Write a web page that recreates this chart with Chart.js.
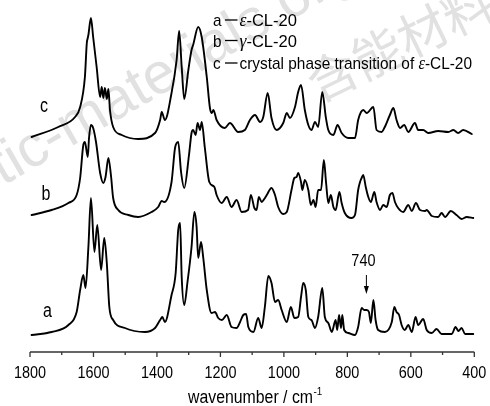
<!DOCTYPE html>
<html>
<head>
<meta charset="utf-8">
<script src="https://cdn.jsdelivr.net/npm/chart.js@4.4.0/dist/chart.umd.min.js"></script>
<style>
  html, body { margin: 0; padding: 0; background: #fff; }
</style>
</head>
<body>
<canvas id="espectro" width="490" height="406"></canvas>
<script>
// ESPECTROS IR DO CL-20 (a, b, c empilhados)

// a - e-CL-20
var numOndaA = [1795, 1732, 1679, 1653, 1642, 1632, 1625, 1616, 1608, 1597, 1588, 1576, 1566, 1558, 1550,
  1538, 1501, 1438, 1406, 1390, 1383, 1375, 1354, 1341, 1333, 1327, 1322, 1314, 1303, 1296,
  1291, 1282, 1275, 1270, 1261, 1254, 1243, 1228, 1217, 1207, 1195, 1180, 1165, 1149, 1138,
  1128, 1119, 1112, 1096, 1081, 1070, 1060, 1049, 1039, 1028, 1018, 1007, 991, 978, 967,
  955, 946, 939, 931, 923, 913, 902, 892, 879, 871, 860, 849, 837, 832, 826,
  820, 816, 810, 797, 776, 766, 755, 747, 739, 732, 726, 718, 711, 703, 682,
  660, 652, 645, 637, 629, 619, 608, 597, 585, 577, 561, 550, 534, 519, 503,
  471, 459, 450, 440, 429, 403];
var intensA = [17, 20, 27, 40, 62, 77, 64, 105, 154, 100, 127, 82, 114, 89, 45,
  32, 24, 20, 24, 32, 35, 30, 57, 79, 122, 129, 75, 47, 72, 90,
  105, 140, 125, 94, 110, 94, 62, 39, 40, 34, 32, 37, 25, 24, 30,
  37, 38, 25, 20, 34, 24, 45, 76, 69, 50, 52, 42, 30, 45, 34,
  35, 55, 69, 62, 35, 32, 24, 35, 64, 35, 29, 20, 32, 22, 37,
  24, 37, 22, 19, 17, 25, 44, 42, 42, 40, 29, 52, 32, 22, 20,
  30, 45, 40, 37, 27, 22, 27, 20, 35, 27, 33, 22, 19, 23, 18,
  18, 25, 21, 24, 18, 18];

// b - g-CL-20
var numOndaB = [1795, 1732, 1679, 1653, 1642, 1632, 1627, 1618, 1614, 1608, 1601, 1592, 1579, 1569, 1562,
  1553, 1545, 1538, 1522, 1490, 1459, 1417, 1396, 1385, 1377, 1354, 1343, 1333, 1324, 1314,
  1299, 1291, 1286, 1278, 1272, 1264, 1259, 1249, 1235, 1219, 1212, 1196, 1180, 1165, 1149,
  1133, 1113, 1104, 1093, 1086, 1079, 1070, 1062, 1054, 1039, 1028, 1018, 1002, 991, 976,
  967, 960, 955, 946, 942, 934, 923, 915, 907, 900, 892, 883, 874, 867, 860,
  852, 844, 837, 825, 818, 808, 787, 776, 766, 760, 755, 750, 742, 734, 726,
  715, 708, 697, 687, 676, 666, 658, 650, 640, 624, 608, 597, 584, 571, 555,
  550, 534, 514, 503, 492, 474, 456, 440, 424, 403];
var intensB = [137, 142, 149, 157, 174, 207, 210, 195, 214, 227, 224, 210, 179, 169, 175,
  194, 177, 154, 142, 137, 135, 140, 145, 151, 150, 170, 204, 210, 180, 164,
  197, 219, 222, 217, 229, 222, 230, 204, 170, 165, 157, 149, 155, 145, 152,
  140, 142, 157, 144, 142, 155, 150, 153, 157, 164, 157, 145, 138, 140, 162,
  174, 175, 179, 170, 162, 172, 162, 147, 152, 145, 162, 162, 192, 169, 149,
  157, 145, 142, 160, 149, 139, 134, 137, 162, 170, 174, 177, 165, 155, 150,
  160, 150, 142, 147, 145, 157, 159, 150, 144, 140, 147, 141, 149, 142, 141,
  142, 136, 135, 139, 135, 141, 137, 133, 135, 134];

// c - transicao de fase do e-CL-20
var numOndaC = [1795, 1711, 1658, 1642, 1627, 1621, 1618, 1616, 1608, 1601, 1590, 1579, 1574, 1569, 1564,
  1558, 1553, 1548, 1538, 1511, 1459, 1406, 1390, 1385, 1375, 1354, 1338, 1330, 1322, 1314,
  1301, 1291, 1286, 1270, 1259, 1243, 1233, 1227, 1222, 1212, 1186, 1170, 1144, 1123, 1107,
  1091, 1075, 1065, 1051, 1039, 1023, 1002, 991, 981, 965, 955, 946, 934, 923, 913,
  902, 892, 879, 868, 860, 844, 831, 818, 797, 776, 766, 757, 750, 739, 718,
  708, 692, 682, 666, 655, 645, 634, 621, 608, 587, 577, 561, 545, 514, 482,
  466, 451, 435, 408];
var intensC = [215, 225, 235, 245, 275, 309, 314, 317, 334, 315, 285, 255, 265, 254, 264,
  253, 263, 242, 225, 217, 213, 219, 232, 240, 232, 259, 292, 321, 285, 253,
  282, 302, 307, 325, 315, 275, 244, 239, 242, 232, 224, 229, 220, 222, 232,
  237, 230, 235, 259, 234, 222, 229, 239, 234, 245, 260, 267, 242, 227, 222,
  230, 225, 260, 235, 222, 217, 227, 219, 214, 214, 232, 240, 242, 239, 245,
  222, 220, 225, 237, 244, 232, 224, 227, 220, 229, 222, 222, 219, 221, 220,
  222, 219, 222, 218];

// eixo x
var ticksPrincipais = [1800, 1600, 1400, 1200, 1000, 800, 600, 400];
var ticksMenores = [1700, 1500, 1300, 1100, 900, 700, 500];
var rotulosCurvas = ['a', 'b', 'c'];
var bandaMarcada = 740;

var FONTE = '"Liberation Sans", Arial, sans-serif';
var FONTE_GREGA = '"Liberation Serif", "DejaVu Serif", serif';

function montarPontos(x, y) {
  var pontos = [];
  for (var i = 0; i < x.length; i++) {
    pontos.push({ x: x[i], y: y[i] });
  }
  return pontos;
}

// escreve varios pedacos de texto em sequencia, comprimidos na horizontal
function escrever(ctx, partes, x, y, opc) {
  var total = 0;
  partes.forEach(function (p) {
    ctx.font = p.fonte;
    p.w = ctx.measureText(p.t).width;
    total += p.w;
  });
  var sx = opc.largura ? opc.largura / total : (opc.sx || 1);
  var x0 = opc.centro ? x - total * sx / 2 : x;
  ctx.save();
  ctx.translate(x0, y);
  ctx.scale(sx, 1);
  ctx.textBaseline = 'alphabetic';
  ctx.textAlign = 'left';
  var cx = 0;
  partes.forEach(function (p) {
    ctx.font = p.fonte;
    ctx.fillText(p.t, cx, 0);
    cx += p.w;
  });
  ctx.restore();
}

function marcaDagua(ctx) {
  ctx.save();
  ctx.fillStyle = '#e1e1e1';
  ctx.textBaseline = 'alphabetic';
  ctx.font = '58px ' + FONTE;
  ctx.translate(3, 186);
  ctx.rotate(-30 * Math.PI / 180);
  var antes = ctx.measureText('energe').width;
  ctx.fillText('energetic-materials.org.cn', -antes, 0);
  ctx.restore();

  ctx.save();
  ctx.fillStyle = '#e1e1e1';
  ctx.font = '50px "Noto Sans CJK SC"';
  ctx.textBaseline = 'middle';
  ctx.translate(310, 86);
  ctx.rotate(-26 * Math.PI / 180);
  ctx.fillText('含能材料', 0, 0);
  ctx.restore();
}

var pluginEixo = {
  id: 'eixoEspectro',
  beforeDatasetsDraw: function (chart) {
    marcaDagua(chart.ctx);
  },
  afterDraw: function (chart) {
    var ctx = chart.ctx;
    var escalaX = chart.scales.x;
    var base = chart.chartArea.bottom;

    ctx.save();
    ctx.fillStyle = '#000';

    // linha do eixo e marcacoes
    ctx.strokeStyle = '#333';
    ctx.lineWidth = 1.5;
    ctx.beginPath();
    ctx.moveTo(escalaX.getPixelForValue(1800), base);
    ctx.lineTo(escalaX.getPixelForValue(400), base);
    ctx.stroke();
    ctx.lineWidth = 1.3;
    ticksPrincipais.forEach(function (v) {
      var px = escalaX.getPixelForValue(v);
      ctx.beginPath();
      ctx.moveTo(px, base);
      ctx.lineTo(px, base + 5);
      ctx.stroke();
      escrever(ctx, [{ t: String(v), fonte: '16px ' + FONTE }], px, base + 26, { sx: 0.9, centro: true });
    });
    ticksMenores.forEach(function (v) {
      var px = escalaX.getPixelForValue(v);
      ctx.beginPath();
      ctx.moveTo(px, base);
      ctx.lineTo(px, base + 3);
      ctx.stroke();
    });

    // titulo do eixo
    escrever(ctx, [{ t: 'wavenumber / cm', fonte: '18px ' + FONTE }], 188, 403, { largura: 125 });
    escrever(ctx, [{ t: '-1', fonte: '11px ' + FONTE }], 313.5, 395, { sx: 0.9 });

    // letras das curvas
    escrever(ctx, [{ t: rotulosCurvas[0], fonte: '20px ' + FONTE }], 43, 316.5, { sx: 0.8 });
    escrever(ctx, [{ t: rotulosCurvas[1], fonte: '20px ' + FONTE }], 41.5, 200, { sx: 0.8 });
    escrever(ctx, [{ t: rotulosCurvas[2], fonte: '20px ' + FONTE }], 40, 111.5, { sx: 0.8 });

    // legenda
    var linhas = [
      { letra: 'a', y: 26, partes: [{ t: 'ε', fonte: 'italic 18px ' + FONTE_GREGA }, { t: '-CL-20', fonte: '17px ' + FONTE }], fim: 297 },
      { letra: 'b', y: 46.5, partes: [{ t: 'γ', fonte: 'italic 18px ' + FONTE_GREGA }, { t: '-CL-20', fonte: '17px ' + FONTE }], fim: 297 },
      { letra: 'c', y: 69, partes: [{ t: 'crystal phase transition of ', fonte: '17px ' + FONTE }, { t: 'ε', fonte: 'italic 18px ' + FONTE_GREGA }, { t: '-CL-20', fonte: '17px ' + FONTE }], fim: 472 }
    ];
    linhas.forEach(function (l) {
      escrever(ctx, [{ t: l.letra, fonte: '17px ' + FONTE }], 213, l.y, { sx: 0.9 });
      ctx.lineWidth = 1.3;
      ctx.strokeStyle = '#000';
      ctx.beginPath();
      ctx.moveTo(225, l.y - 6);
      ctx.lineTo(237.5, l.y - 6);
      ctx.stroke();
      escrever(ctx, l.partes, 239.5, l.y, { largura: l.fim - 239.5 });
    });

    // banda 740
    var xb = escalaX.getPixelForValue(bandaMarcada);
    escrever(ctx, [{ t: String(bandaMarcada), fonte: '17px ' + FONTE }], xb - 3, 266, { sx: 0.85, centro: true });
    ctx.strokeStyle = '#000';
    ctx.lineWidth = 1;
    ctx.beginPath();
    ctx.moveTo(xb, 275);
    ctx.lineTo(xb, 290);
    ctx.stroke();
    ctx.beginPath();
    ctx.moveTo(xb, 294);
    ctx.lineTo(xb - 2.5, 286);
    ctx.lineTo(xb + 2.5, 286);
    ctx.closePath();
    ctx.fill();

    ctx.restore();
  }
};

function criarSerie(x, y) {
  return {
    data: montarPontos(x, y),
    borderColor: '#000',
    borderWidth: 1.9,
    pointRadius: 0,
    fill: false,
    cubicInterpolationMode: 'monotone'
  };
}

var config = {
  type: 'line',
  data: {
    datasets: [
      criarSerie(numOndaA, intensA),
      criarSerie(numOndaB, intensB),
      criarSerie(numOndaC, intensC)
    ]
  },
  options: {
    responsive: false,
    animation: false,
    layout: { padding: { left: 30, right: 15.7, top: 0, bottom: 54 } },
    elements: { line: { borderJoinStyle: 'round', borderCapStyle: 'round' } },
    plugins: { legend: { display: false }, tooltip: { enabled: false } },
    scales: {
      x: { type: 'linear', min: 400, max: 1800, reverse: true, display: false },
      y: { min: 0, max: 352, display: false }
    }
  },
  plugins: [pluginEixo]
};

var meuGrafico = new Chart(document.getElementById('espectro'), config);
</script>
</body>
</html>
